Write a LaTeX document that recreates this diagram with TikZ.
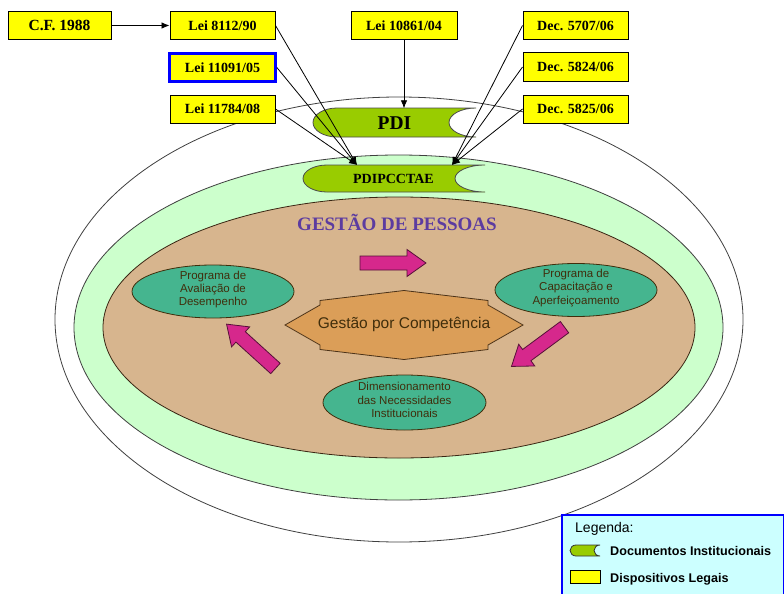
\documentclass[tikz,border=0pt]{standalone}
\usepackage{fontspec}
\setmainfont{Liberation Serif}
\setsansfont{Liberation Sans}
\usetikzlibrary{arrows.meta,shapes.geometric}

\definecolor{legalyellow}{RGB}{255,255,0}
\definecolor{ringgreen}{RGB}{204,255,204}
\definecolor{coretan}{RGB}{215,181,142}
\definecolor{docgreen}{RGB}{153,204,0}
\definecolor{progteal}{RGB}{69,181,143}
\definecolor{starorange}{RGB}{219,158,88}
\definecolor{flowpink}{RGB}{214,40,140}
\definecolor{titlepurple}{RGB}{92,60,160}
\definecolor{textbrown}{RGB}{64,46,12}
\definecolor{legendcyan}{RGB}{204,255,255}
\definecolor{legendblue}{RGB}{0,0,255}

% "stored data" outline: options, x1, y1, x2, y2, left bulge, right notch
\newcommand\docoutline[7]{%
  \path[#1] (#2+#6,#3) -- (#4,#3)
    .. controls (#4-0.552*#7,#3) and (#4-#7,{0.5*(#3+#5)-0.276*(#5-#3)}) .. (#4-#7,{0.5*(#3+#5)})
    .. controls (#4-#7,{0.5*(#3+#5)+0.276*(#5-#3)}) and (#4-0.552*#7,#5) .. (#4,#5)
    -- (#2+#6,#5)
    .. controls (#2+0.448*#6,#5) and (#2,{0.5*(#3+#5)+0.276*(#5-#3)}) .. (#2,{0.5*(#3+#5)})
    .. controls (#2,{0.5*(#3+#5)-0.276*(#5-#3)}) and (#2+0.448*#6,#3) .. (#2+#6,#3)
    -- cycle;}

\tikzset{
  legal/.style={draw=black, line width=1pt, fill=legalyellow, minimum width=105,
    minimum height=28, inner sep=0pt, font=\fontsize{14}{16}\selectfont\bfseries},
  conn/.style={draw=black, line width=0.8pt, -{Latex[length=8pt,width=6.5pt]}},
  ringline/.style={draw=black!75, line width=0.8pt},
  docshape/.style={draw=black!70, line width=0.8pt, fill=docgreen},
  doclabel/.style={inner sep=0pt, font=\bfseries},
  progell/.style={ellipse, draw=textbrown, line width=0.8pt, fill=progteal,
    minimum width=162, minimum height=53, inner sep=0pt},
  progtext/.style={align=center, text=textbrown, inner sep=0pt,
    font=\sffamily\fontsize{11.5}{13.3}\selectfont},
  pinkarrow/.style={draw=black!60!flowpink, line width=0.8pt, fill=flowpink},
  pics/flowarrow/.style={code={
    \path[pinkarrow] (-33,-7) -- (14,-7) -- (14,-13.5) -- (33,0) -- (14,13.5)
      -- (14,7) -- (-33,7) -- cycle;}},
  legendtext/.style={anchor=west, inner sep=0pt, font=\sffamily\bfseries\fontsize{12.6}{14}\selectfont}
}

\begin{document}
\begin{tikzpicture}[x=1pt,y=-1pt]
\useasboundingbox (0,0) rectangle (784,594);
\clip (0,0) rectangle (784,594);

% nested rings
\draw[ringline, fill=white] (399,319.5) ellipse [x radius=344, y radius=222.5];
\draw[ringline, fill=ringgreen] (398.5,327.5) ellipse [x radius=324.5, y radius=172.5];
\draw[ringline, draw=black!70!brown, fill=coretan] (399,327.5) ellipse [x radius=296, y radius=130.5];

% institutional documents
\docoutline{docshape}{313}{108}{476}{137}{24}{27}
\node[doclabel, minimum width=163, minimum height=29, font=\bfseries\fontsize{19.5}{22}\selectfont]
  (pdi) at (394.5,123) {PDI};
\docoutline{docshape}{303}{165}{485}{192}{24}{30}
\node[doclabel, minimum width=182, minimum height=27, font=\bfseries\fontsize{14}{16}\selectfont]
  (pdip) at (393.5,178.5) {PDIPCCTAE};
\coordinate (pdipL) at (357,165);
\coordinate (pdipR) at (452,165);

% legal devices
\node[legal, minimum width=103, font=\fontsize{15.5}{17}\selectfont\bfseries] (cf) at (59.5,25.5) {C.F. 1988};
\node[legal] (l8112) at (222.5,25.5) {Lei 8112/90};
\node[legal, draw=legendblue, line width=2.7pt, minimum width=106] (l11091) at (222.5,67.5) {Lei 11091/05};
\node[legal] (l11784) at (222.5,109) {Lei 11784/08};
\node[legal, minimum width=106] (l10861) at (404,25.5) {Lei 10861/04};
\node[legal] (d5707) at (575.5,25.5) {Dec. 5707/06};
\node[legal] (d5824) at (575.5,67) {Dec. 5824/06};
\node[legal] (d5825) at (575.5,109) {Dec. 5825/06};

% people management core
\node[anchor=base, inner sep=0pt, text=titlepurple, font=\bfseries\fontsize{19}{22}\selectfont]
  (gp) at (397,230) {GESTÃO DE PESSOAS};

\path[draw=black!60!brown, line width=0.8pt, fill=starorange]
  (320,300.5) -- (404,290.5) -- (488,300.5) -- (488,305) -- (523,325) -- (488,345)
  -- (488,349.5) -- (404,359.5) -- (320,349.5) -- (320,345) -- (285,325) -- (320,305) -- cycle;
\node[inner sep=0pt, text=textbrown, font=\sffamily\fontsize{15.5}{18}\selectfont]
  (gpc) at (404,324) {Gestão por Competência};

\node[progell] (aval) at (213,291.5) {};
\node[progtext] at ([yshift=2]aval.center) {Programa de\\Avaliação de\\Desempenho};
\node[progell] (capac) at (576,290) {};
\node[progtext] at ([yshift=2]capac.center) {Programa de\\Capacitação e\\Aperfeiçoamento};
\node[progell, minimum width=163, minimum height=55] (dimen) at (404.5,402.5) {};
\node[progtext] at ([yshift=2.5]dimen.center) {Dimensionamento\\das Necessidades\\Institucionais};

% cycle arrows
\pic at (393,263) {flowarrow};
\pic[rotate=216.5] at (538,346.8) {flowarrow};
\pic[rotate=137.8] at (251,346.3) {flowarrow};

% connectors
\draw[conn] (cf.east) -- (l8112.west);
\draw[conn] (l10861.south) -- (l10861.south |- pdi.north);
\draw[conn] (l8112.east) -- (pdipL);
\draw[conn] (l11091.east) -- (pdipL);
\draw[conn] (l11784.east) -- (pdipL);
\draw[conn] (d5707.west) -- (pdipR);
\draw[conn] (d5824.west) -- (pdipR);
\draw[conn] (d5825.west) -- (pdipR);

% legend
\path[draw=legendblue, line width=1.5pt, fill=legendcyan] (562,515) rectangle (783.5,600);
\node[anchor=west, inner sep=0pt, font=\sffamily\fontsize{14}{16}\selectfont] (legtitle) at (575,529) {Legenda:};
\docoutline{docshape, draw=black!80}{570}{545}{600}{556}{6}{6}
\node[legendtext] (legdoc) at (610,551) {Documentos Institucionais};
\node[draw=black, line width=0.8pt, fill=legalyellow, minimum width=30, minimum height=13, inner sep=0pt]
  (legbox) at (585,576.5) {};
\node[legendtext] (leglegal) at (610,579) {Dispositivos Legais};
\end{tikzpicture}
\end{document}
